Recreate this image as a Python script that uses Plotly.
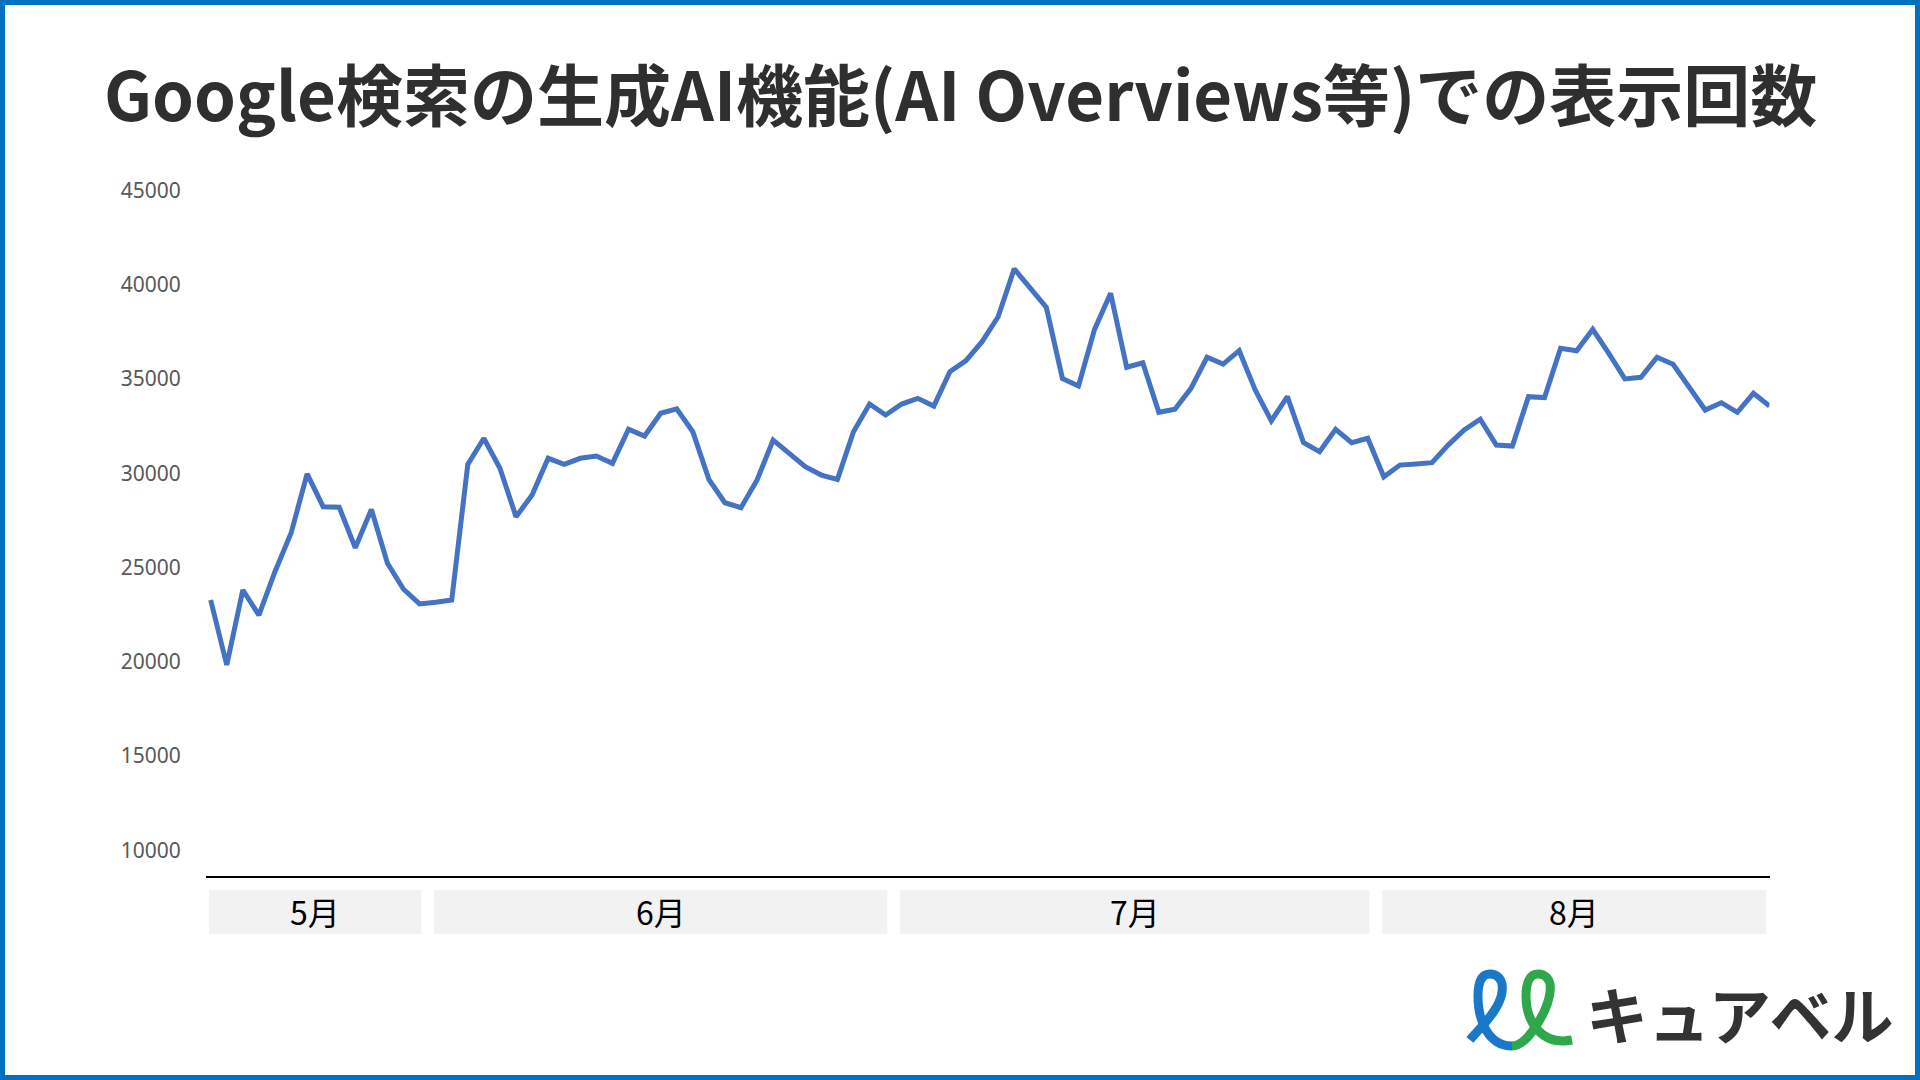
import plotly.graph_objects as go

W, H = 1920, 1080

title = "Google検索の生成AI機能(AI Overviews等)での表示回数"

# 日別の表示回数 (5月中旬〜8月下旬)
views = [
    23280, 19830, 23810, 22480, 24780, 26820, 29970, 28230, 28200, 26050,
    28090, 25230, 23850, 23070,
    23160, 23280, 30480, 31860, 30270, 27700, 28850, 30800, 30480, 30800,
    30920, 30530, 32340, 31980, 33190, 33420, 32210, 29680, 28440, 28180,
    29650, 31770, 31060, 30350, 29910, 29680, 32210, 33680, 33100,
    33680, 33980, 33570, 35390, 35980, 36990, 38310, 40850, 39850, 38810,
    35040, 34640, 37640, 39560, 35630, 35870, 33240, 33400, 34510, 36160,
    35800, 36510, 34420, 32790, 34070, 31630, 31150, 32340,
    31630, 31860, 29820, 30440, 30500, 30570, 31500, 32300, 32870, 31500,
    31450, 34070, 34020, 36640, 36510, 37640, 36370, 35010, 35100, 36160,
    35790, 34600, 33360, 33750, 33240, 34250, 33570,
]

# 月ラベル
months = ['5月', '6月', '7月', '8月']
month_days = [14, 29, 30, 25]

# y軸目盛
y_ticks = [10000, 15000, 20000, 25000, 30000, 35000, 40000, 45000]

JP_FONT = "Noto Sans CJK JP"


###
def fx(x):
    return x / W


###
def fy(y):
    return 1 - y / H


###
def px_path(points):
    # ピクセル座標 -> paper座標のSVG path
    out = []
    for cmd, pts in points:
        out.append(cmd + " ".join(f"{fx(x):.5f},{fy(y):.5f}" for x, y in pts))
    return " ".join(out)


###
def month_shapes():
    shapes, annos = [], []
    start = 0
    for name, n in zip(months, month_days):
        end = start + n - 1
        x0 = max(start - 0.5 + 0.4, -0.3)
        x1 = min(end + 0.5 - 0.4, 96.8)
        shapes.append(dict(type='rect', xref='x', yref='paper',
                           x0=x0, x1=x1, y0=fy(934), y1=fy(890),
                           fillcolor='#F2F2F2', line_width=0, layer='below'))
        annos.append(dict(text=name, xref='x', yref='paper',
                          x=(x0 + x1) / 2, y=fy(911), showarrow=False,
                          xanchor='center', yanchor='middle',
                          font=dict(family=JP_FONT, size=32, color='#000000')))
        start += n
    return shapes, annos


fig = go.Figure()
fig.add_trace(go.Scatter(x=list(range(len(views))), y=views, mode='lines',
                         line=dict(color='#4472C4', width=5),
                         cliponaxis=False, hoverinfo='skip'))

shapes, annos = month_shapes()

# 枠線
shapes.append(dict(type='rect', xref='paper', yref='paper', x0=0, x1=1, y0=0, y1=1,
                   line=dict(color='#0070C0', width=10), fillcolor='rgba(0,0,0,0)'))

# ロゴのアイコン
blue = [('M', [(1470, 1040)]),
        ('C', [(1478, 1030), (1500, 1010), (1502, 992)]),
        ('C', [(1504, 978), (1496, 974), (1490, 974)]),
        ('C', [(1482, 974), (1478, 982), (1478, 996)]),
        ('C', [(1478, 1020), (1488, 1046), (1512, 1046)])]
green = [('M', [(1512, 1046)]),
         ('C', [(1528, 1046), (1548, 1010), (1550, 992)]),
         ('C', [(1552, 978), (1544, 974), (1538, 974)]),
         ('C', [(1530, 974), (1526, 982), (1526, 996)]),
         ('C', [(1526, 1020), (1540, 1046), (1572, 1040)])]
shapes.append(dict(type='path', xref='paper', yref='paper', path=px_path(blue),
                   line=dict(color='#1A78C8', width=9)))
shapes.append(dict(type='path', xref='paper', yref='paper', path=px_path(green),
                   line=dict(color='#2EA84A', width=9)))

# タイトル
annos.append(dict(text=f"<b>{title}</b>", xref='paper', yref='paper',
                  x=0.5, y=fy(92), showarrow=False, xanchor='center', yanchor='middle',
                  font=dict(family=JP_FONT, size=67, color='#2F2F2F')))
# ロゴ文字
annos.append(dict(text="<b>キュアベル</b>", xref='paper', yref='paper',
                  x=fx(1740), y=fy(1013), showarrow=False, xanchor='center', yanchor='middle',
                  font=dict(family=JP_FONT, size=62, color='#333333')))

fig.update_layout(width=W, height=H,
                  margin=dict(l=0, r=0, t=0, b=0, pad=0, autoexpand=False),
                  paper_bgcolor='white', plot_bgcolor='white', showlegend=False,
                  shapes=shapes, annotations=annos)

fig.update_xaxes(domain=[fx(205.7), fx(1769.5)], range=[-0.31, 97],
                 showline=True, linecolor='#000000', linewidth=1.5,
                 showgrid=False, zeroline=False, showticklabels=False, ticks='')
fig.update_yaxes(domain=[fy(875.5), fy(190.7)], range=[8660, 45000],
                 tickmode='array', tickvals=y_ticks, ticktext=[str(v) for v in y_ticks],
                 showgrid=False, zeroline=False, showline=False, ticks='',
                 ticklabelstandoff=24,
                 tickfont=dict(family="Noto Sans", size=21, color='#595959'))

# bodyの余白を消す
fig.write_html("out.html", config={'displayModeBar': False},
               post_script="document.body.style.margin='0';document.body.style.overflow='hidden';")
